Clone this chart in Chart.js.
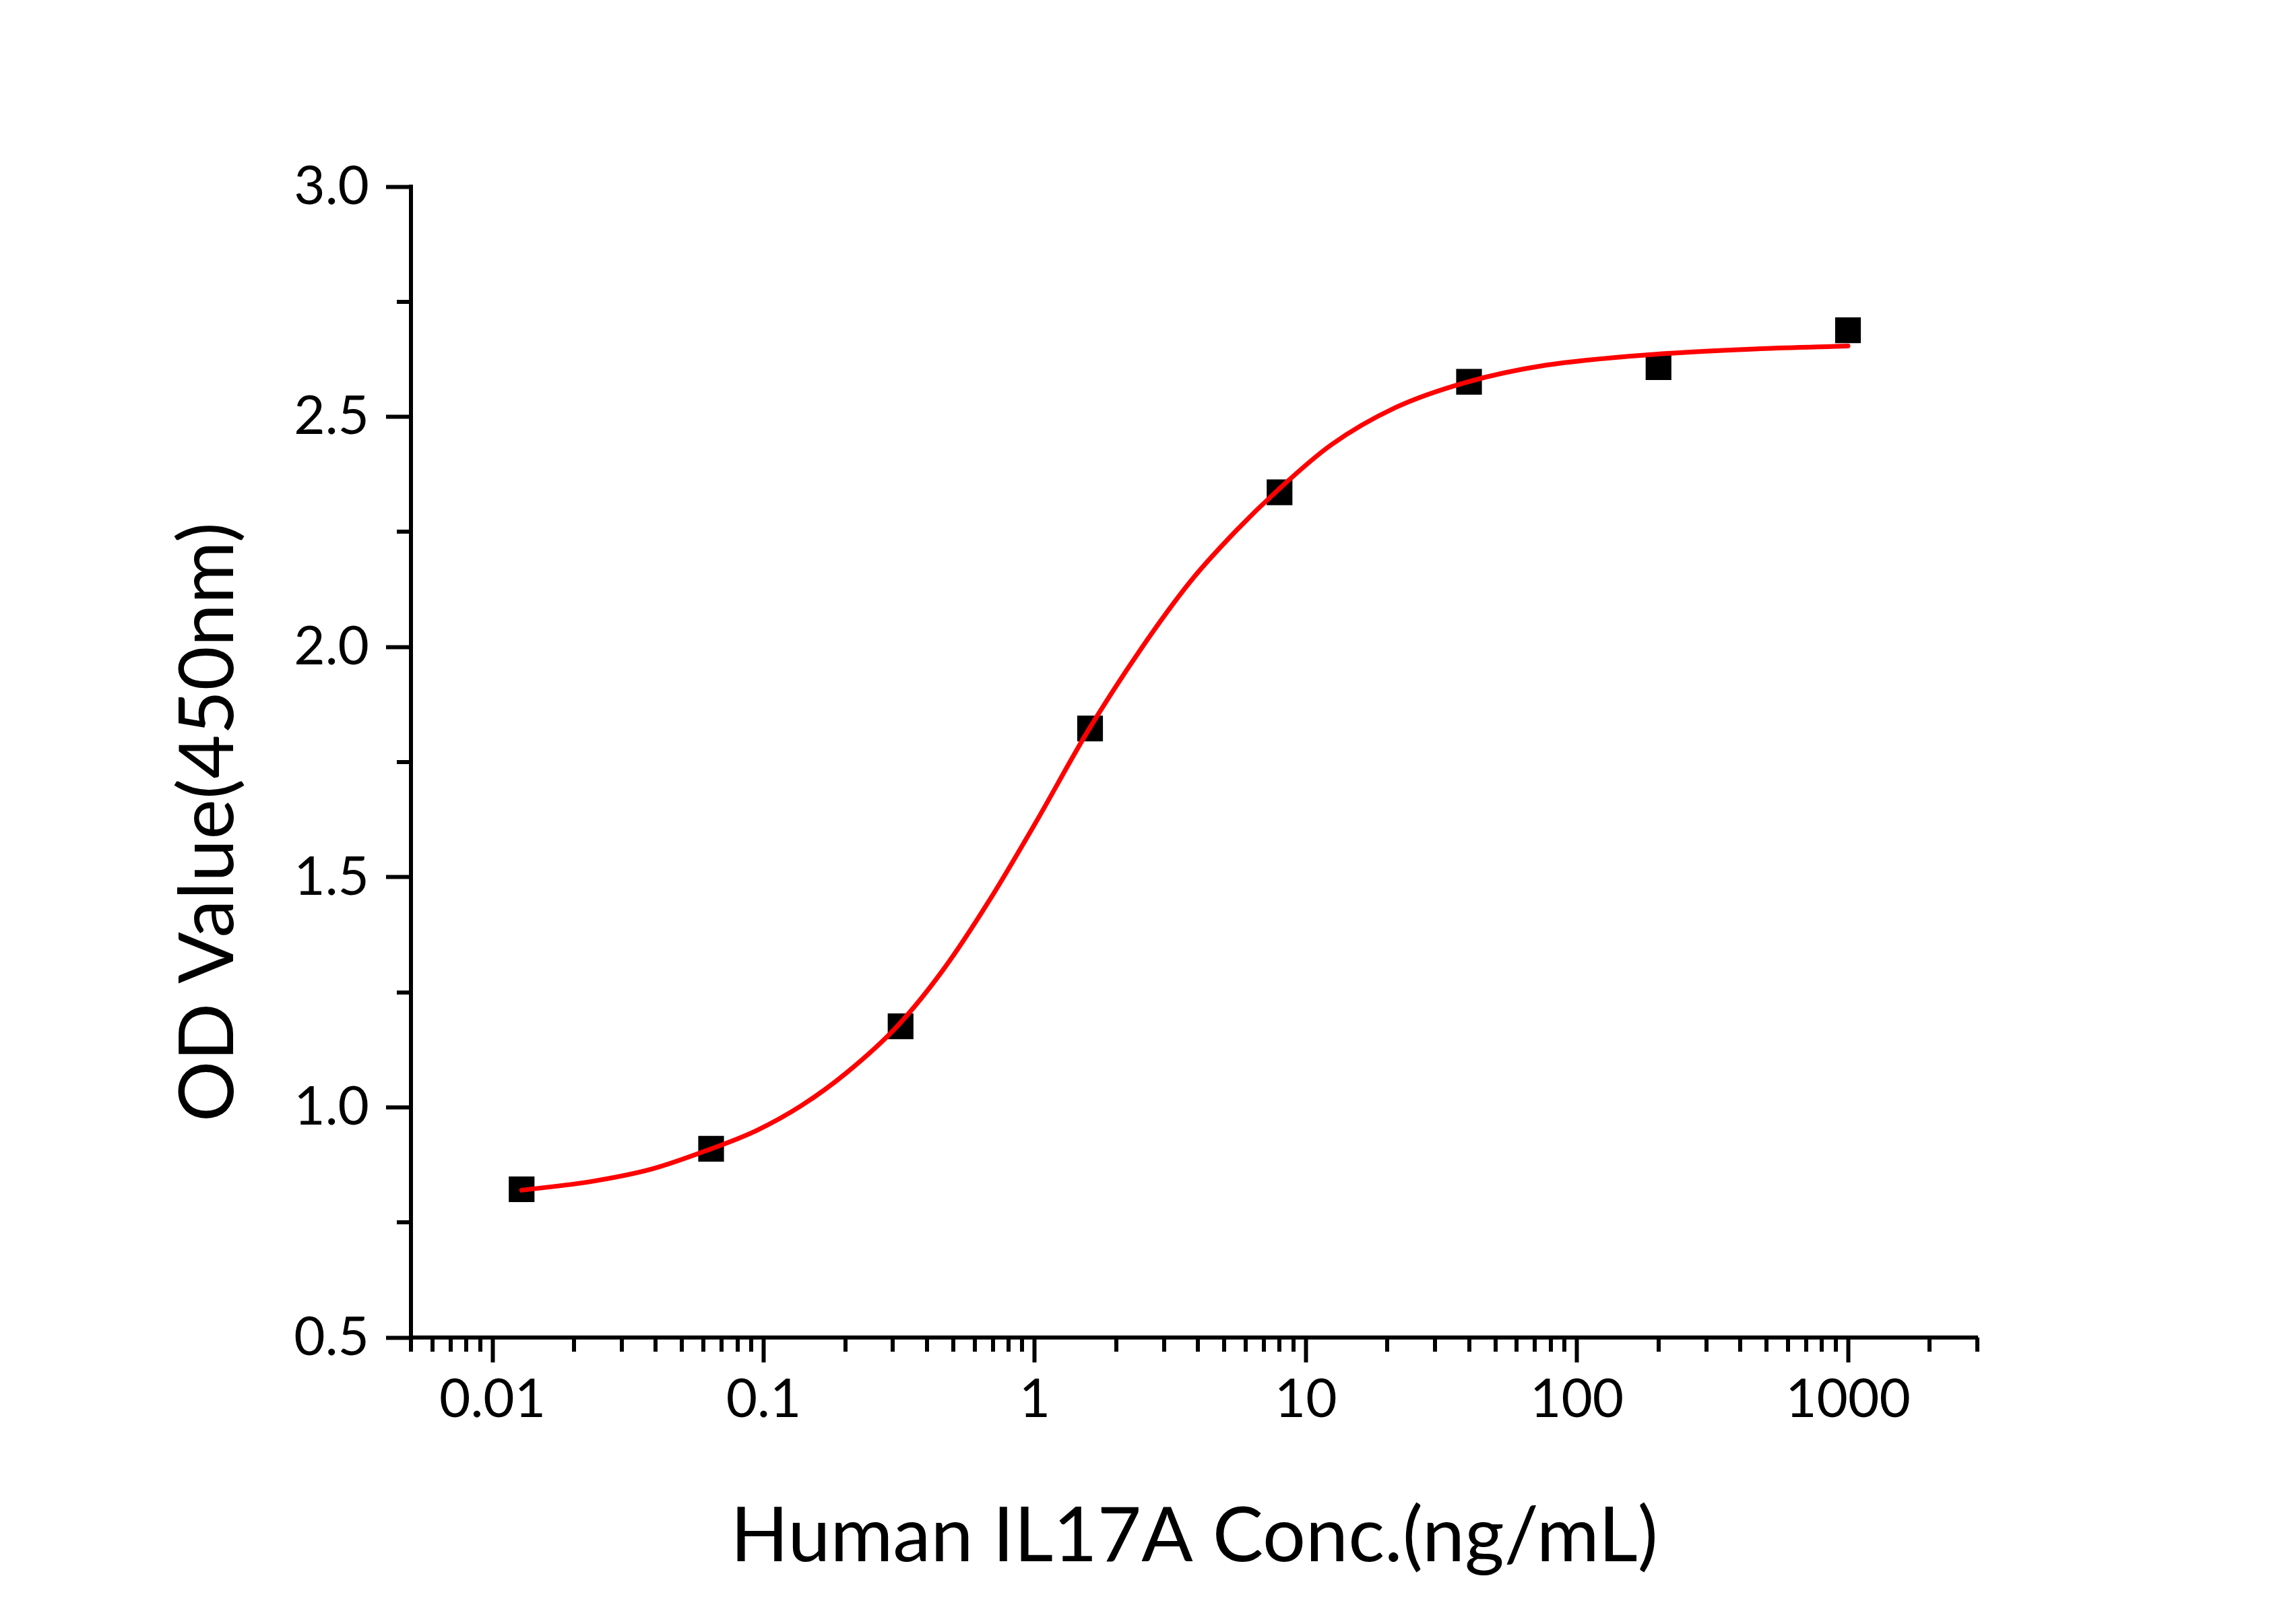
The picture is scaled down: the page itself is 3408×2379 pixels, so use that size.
<!DOCTYPE html>
<html>
<head>
<meta charset="utf-8">
<script src="https://cdn.jsdelivr.net/npm/chart.js@4"></script>
<style>
  html, body { margin: 0; padding: 0; background: #fff; }
  canvas { display: block; }
</style>
</head>
<body>
<canvas id="chart" width="3408" height="2379"></canvas>
<script>
// measured points (ng/mL vs OD450)
const concentrations = [0.0128, 0.064, 0.32, 1.6, 8, 40, 200, 1000];
const odValues = [0.822, 0.910, 1.176, 1.823, 2.336, 2.576, 2.608, 2.688];

// fitted curve
const curveX = [0.0128, 0.0232, 0.0387, 0.0628, 0.0944, 0.138, 0.203, 0.313, 0.465, 0.681, 1.0, 1.58, 2.44, 3.76, 5.52, 7.89, 12.4, 21.4, 39.1, 76.6, 195, 474, 1000];
const curveY = [0.820, 0.839, 0.866, 0.908, 0.950, 1.004, 1.076, 1.178, 1.303, 1.450, 1.615, 1.820, 1.992, 2.143, 2.252, 2.341, 2.439, 2.520, 2.575, 2.612, 2.636, 2.648, 2.654];

const xTicks = [0.01, 0.1, 1, 10, 100, 1000];
const xTickLabels = ['0.01', '0.1', '1', '10', '100', '1000'];
const xMinorTicks = [];
for (const d of [0.001, 0.01, 0.1, 1, 10, 100, 1000]) {
  for (let m = 2; m <= 9; m++) {
    const v = +(d * m).toPrecision(3);
    if (v >= 0.005 && v <= 3000) xMinorTicks.push(v);
  }
}
const yTicks = [0.5, 1.0, 1.5, 2.0, 2.5, 3.0];
const yTickLabels = ['0.5', '1.0', '1.5', '2.0', '2.5', '3.0'];
const yMinorTicks = [0.75, 1.25, 1.75, 2.25, 2.75];

const xTitle = 'Human IL17A Conc.(ng/mL)';
const yTitle = 'OD Value(450nm)';

const FONT = 'Lato, "Open Sans", sans-serif';

const axisExtras = {
  id: 'axisExtras',
  afterDraw(chart) {
    const ctx = chart.ctx;
    const x = chart.scales.x, y = chart.scales.y;
    ctx.save();
    ctx.strokeStyle = '#000';
    ctx.lineWidth = 6;
    ctx.beginPath();
    for (const v of xMinorTicks) {
      const px = Math.round(x.getPixelForValue(v));
      ctx.moveTo(px, x.top);
      ctx.lineTo(px, x.top + 21);
    }
    for (const v of yMinorTicks) {
      const py = Math.round(y.getPixelForValue(v));
      ctx.moveTo(y.right, py);
      ctx.lineTo(y.right - 21, py);
    }
    ctx.stroke();

    // axis titles
    ctx.fillStyle = '#000';
    ctx.font = '113px ' + FONT;
    ctx.textAlign = 'center';
    ctx.textBaseline = 'alphabetic';
    ctx.fillText(xTitle, (chart.chartArea.left + chart.chartArea.right) / 2, 2317);

    ctx.translate(346, (chart.chartArea.top + chart.chartArea.bottom) / 2 + 89);
    ctx.rotate(-Math.PI / 2);
    ctx.fillText(yTitle, 0, 0);
    ctx.restore();
  }
};

const ctx = document.getElementById('chart').getContext('2d');
new Chart(ctx, {
  type: 'scatter',
  data: {
    datasets: [
      {
        type: 'line',
        label: 'Fit',
        data: curveX.map((v, i) => ({ x: v, y: curveY[i] })),
        borderColor: '#ff0000',
        borderWidth: 7,
        borderCapStyle: 'round',
        pointRadius: 0,
        fill: false,
        cubicInterpolationMode: 'monotone'
      },
      {
        label: 'OD',
        data: concentrations.map((v, i) => ({ x: v, y: odValues[i] })),
        pointStyle: 'rect',
        pointRadius: 27,
        pointBackgroundColor: '#000',
        pointBorderWidth: 0,
        showLine: false
      }
    ]
  },
  options: {
    responsive: false,
    devicePixelRatio: 1,
    animation: false,
    layout: { padding: { top: 277, right: 473, left: 0, bottom: 0 } },
    plugins: {
      legend: { display: false },
      tooltip: { enabled: false }
    },
    scales: {
      x: {
        type: 'logarithmic',
        min: 0.005,
        max: 3000,
        afterBuildTicks: (axis) => { axis.ticks = xTicks.map(v => ({ value: v, major: true })); },
        afterFit: (axis) => { axis.height = 394; },
        ticks: {
          autoSkip: false,
          maxRotation: 0,
          padding: 7,
          color: '#000',
          font: { family: FONT, size: 80 },
          callback: (v, i) => xTickLabels[i]
        },
        grid: {
          drawOnChartArea: false,
          drawTicks: true,
          tickLength: 37,
          tickWidth: 6,
          tickColor: '#000'
        },
        border: { display: true, color: '#000', width: 6 }
      },
      y: {
        type: 'linear',
        min: 0.5,
        max: 3.0,
        afterBuildTicks: (axis) => { axis.ticks = yTicks.map(v => ({ value: v })); },
        afterFit: (axis) => { axis.width = 610; },
        ticks: {
          autoSkip: false,
          padding: 25,
          color: '#000',
          font: { family: FONT, size: 80 },
          callback: (v, i) => yTickLabels[i]
        },
        grid: {
          drawOnChartArea: false,
          drawTicks: true,
          tickLength: 37,
          tickWidth: 6,
          tickColor: '#000'
        },
        border: { display: true, color: '#000', width: 6 }
      }
    }
  },
  plugins: [axisExtras]
});
</script>
</body>
</html>
